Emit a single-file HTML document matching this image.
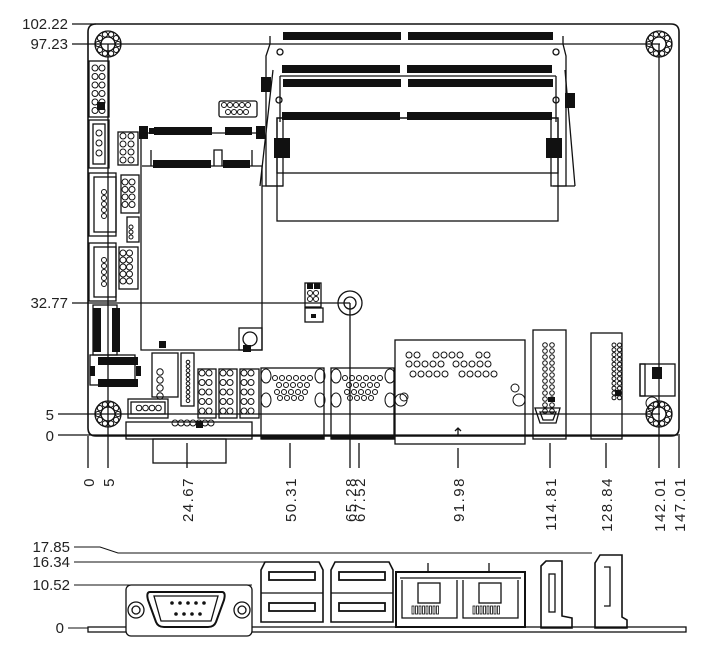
<!DOCTYPE html>
<html><head><meta charset="utf-8"><style>
html,body{margin:0;padding:0;background:#fff}
svg{display:block}
text{font-family:"Liberation Sans",sans-serif;font-size:15px;fill:#222}
</style></head><body>
<svg id="s" width="714" height="653" viewBox="0 0 714 653" xmlns="http://www.w3.org/2000/svg" fill="none" stroke="#111" stroke-width="1.3">
<path d="M96 24 H671 Q679 24 679 32 V428 Q679 436 671 436 H96 Q88 436 88 428 V32 Q88 24 96 24 Z" stroke-width="1.6"/>
<line x1="72" y1="24" x2="96" y2="24"/>
<line x1="72" y1="44" x2="660" y2="44"/>
<line x1="72" y1="303" x2="350" y2="303"/>
<line x1="58" y1="414" x2="660" y2="414"/>
<line x1="58" y1="435" x2="680" y2="435"/>
<g stroke="none">
<text x="68" y="29" text-anchor="end">102.22</text>
<text x="68" y="49" text-anchor="end">97.23</text>
<text x="68" y="308" text-anchor="end">32.77</text>
<text x="54" y="420" text-anchor="end">5</text>
<text x="54" y="441" text-anchor="end">0</text>
</g>
<line x1="88" y1="436" x2="88" y2="468"/>
<line x1="108" y1="44" x2="108" y2="468"/>
<line x1="187" y1="443" x2="187" y2="468"/>
<line x1="290" y1="443" x2="290" y2="468"/>
<line x1="350" y1="303" x2="350" y2="468"/>
<line x1="359" y1="443" x2="359" y2="468"/>
<line x1="458" y1="448" x2="458" y2="468"/>
<line x1="550" y1="443" x2="550" y2="468"/>
<line x1="606" y1="443" x2="606" y2="468"/>
<line x1="659" y1="44" x2="659" y2="468"/>
<line x1="679" y1="436" x2="679" y2="468"/>
<g stroke="none" id="vl"></g>
<g>
<rect x="277" y="118" width="281" height="103"/>
<rect x="277" y="118" width="281" height="55"/>
<path d="M270 36 V44 L266 56 V186 H283 V118 M563 36 V44 L566 56 V186 H551 V118"/>
<path d="M260 186 L273 70 M575 186 L565 70 M262 186 H283 M553 186 H575"/>
<path d="M280 76 H556 M280 76 V122 M556 76 V122"/>
<circle cx="280" cy="52" r="3"/><circle cx="556" cy="52" r="3"/>
<circle cx="279" cy="100" r="3"/><circle cx="556" cy="100" r="3"/>
</g>
<g fill="#111" stroke="none">
<rect x="283" y="32" width="118" height="8"/><rect x="408" y="32" width="145" height="8"/>
<rect x="282" y="65" width="118" height="8"/><rect x="407" y="65" width="145" height="8"/>
<rect x="283" y="79" width="118" height="8"/><rect x="408" y="79" width="145" height="8"/>
<rect x="282" y="112" width="118" height="8"/><rect x="407" y="112" width="145" height="8"/>
<rect x="274" y="138" width="16" height="20"/><rect x="546" y="138" width="16" height="20"/>
<rect x="261" y="77" width="10" height="15"/><rect x="565" y="93" width="10" height="15"/>
<rect x="139" y="126" width="9" height="13"/><rect x="154" y="127" width="58" height="8"/><rect x="225" y="127" width="27" height="8"/><rect x="256" y="126" width="9" height="13"/>
<rect x="153" y="160" width="58" height="8"/><rect x="223" y="160" width="27" height="8"/>
</g>
<path d="M142 133 H262 M142 166 H262 V350 H141 V133 M151 166 V150 M252 166 V150 M214 166 V150 H222 V166"/>
<rect x="239" y="328" width="23" height="22"/><circle cx="250" cy="339" r="7"/>
<rect x="219" y="101" width="38" height="16" rx="2"/>
<rect x="89" y="61" width="20" height="56"/>
<rect x="89" y="120" width="20" height="48"/><rect x="93" y="124" width="12" height="40"/>
<rect x="89" y="173" width="27" height="63"/><rect x="94" y="177" width="22" height="55"/>
<rect x="89" y="243" width="27" height="58"/><rect x="94" y="247" width="22" height="50"/>
<rect x="118" y="132" width="20" height="33"/><rect x="121" y="175" width="18" height="38"/>
<rect x="127" y="217" width="12" height="25"/><rect x="119" y="247" width="19" height="42"/>
<rect x="93" y="305" width="24" height="50"/>
<rect x="90" y="355" width="45" height="30"/>
<rect x="152" y="353" width="26" height="44"/><rect x="181" y="353" width="13" height="53"/>
<rect x="198" y="369" width="18" height="49"/><rect x="219" y="369" width="18" height="49"/><rect x="240" y="369" width="19" height="49"/>
<rect x="128" y="399" width="40" height="19"/><rect x="131" y="402" width="34" height="12"/>
<rect x="305" y="283" width="16" height="24"/><rect x="305" y="308" width="18" height="14"/>
<circle cx="350" cy="303" r="12"/><circle cx="350" cy="303" r="6"/>
<rect x="126" y="422" width="126" height="17"/><rect x="153" y="439" width="73" height="24"/>
<rect x="261" y="368" width="63" height="71"/><rect x="262" y="436" width="62" height="3" fill="#111"/>
<rect x="331" y="368" width="63" height="71"/><rect x="332" y="436" width="62" height="3" fill="#111"/>
<rect x="395" y="340" width="130" height="104"/>
<path d="M458 436 V428 M455 431 L458 428 L461 431"/>
<rect x="533" y="330" width="33" height="109"/>
<path d="M535 408 H560 L556 423 H540 Z M540 412 H556 L553 420 H543 Z"/>
<rect x="591" y="333" width="31" height="106"/>
<rect x="640" y="364" width="35" height="32"/><rect x="640" y="364" width="5" height="32"/>
<g fill="#111" stroke="none">
<rect x="652" y="367" width="10" height="12"/>
<rect x="93" y="308" width="8" height="44"/><rect x="112" y="308" width="8" height="44"/>
<rect x="98" y="357" width="40" height="8"/><rect x="98" y="379" width="40" height="8"/>
<rect x="90" y="366" width="5" height="10"/><rect x="136" y="366" width="5" height="10"/>
<rect x="149" y="128" width="9" height="6"/><rect x="307" y="283" width="6" height="6"/><rect x="314" y="283" width="6" height="6"/>
<rect x="311" y="314" width="5" height="4"/>
<rect x="159" y="341" width="7" height="7"/><rect x="243" y="345" width="8" height="7"/>
<rect x="196" y="421" width="7" height="7"/>
<rect x="548" y="397" width="7" height="5"/><rect x="615" y="390" width="6" height="6"/>
<rect x="97" y="102" width="8" height="8"/><rect x="307" y="65" width="6" height="6"/>
</g>
<g id="mh"></g>
<path d="M74 547 H100 L118 553 H592 M74 562 H268 M74 585 H252 M68 628 H88" stroke-width="1.1"/>
<g stroke="none">
<text x="70" y="552" text-anchor="end">17.85</text>
<text x="70" y="567" text-anchor="end">16.34</text>
<text x="70" y="590" text-anchor="end">10.52</text>
<text x="64" y="633" text-anchor="end">0</text>
</g>
<rect x="88" y="627" width="598" height="5"/>
<rect x="126" y="585" width="126" height="51" rx="5" fill="#fff"/>
<path d="M150 592 H222 Q226 592 224 600 L216 622 Q214 627 208 627 H164 Q158 627 156 622 L148 600 Q146 592 150 592 Z" stroke-width="2"/>
<path d="M154 596 H218 L211 621 H161 Z"/>
<circle cx="136" cy="610" r="8"/><circle cx="136" cy="610" r="4"/>
<circle cx="242" cy="610" r="8"/><circle cx="242" cy="610" r="4"/>
<g fill="#111" stroke="none">
<circle cx="172" cy="603" r="1.8"/><circle cx="180" cy="603" r="1.8"/><circle cx="188" cy="603" r="1.8"/><circle cx="196" cy="603" r="1.8"/><circle cx="204" cy="603" r="1.8"/>
<circle cx="176" cy="614" r="1.8"/><circle cx="184" cy="614" r="1.8"/><circle cx="192" cy="614" r="1.8"/><circle cx="200" cy="614" r="1.8"/>
</g>
<g id="usb"></g>
<rect x="396" y="572" width="129" height="55" stroke-width="2"/>
<path d="M402 580 V618 H457 V580 M463 580 V618 H518 V580 M400 578 H521"/>
<rect x="418" y="583" width="22" height="20"/><rect x="479" y="583" width="22" height="20"/>
<path d="M428 572 V563 M489 572 V563"/>
<g id="lanp"></g>
<path d="M541 566 L546 561 H562 V616 L572 618 V628 H541 Z" stroke-width="1.6"/>
<rect x="549" y="574" width="6" height="38"/>
<path d="M595 563 L600 555 H622 V617 L627 620 V628 H595 Z" stroke-width="1.6"/>
<path d="M604 567 H610 V606 H604"/>
</svg>
<script>
var s=document.getElementById('s'),NS='http://www.w3.org/2000/svg';
function el(t,a,p){var e=document.createElementNS(NS,t);for(var k in a)e.setAttribute(k,a[k]);(p||s).appendChild(e);return e;}
function c(x,y,r){el('circle',{cx:x,cy:y,r:r||2.6,'stroke-width':1});}
[[88,'0'],[108,'5'],[187,'24.67'],[290,'50.31'],[350,'65.28'],[359,'67.52'],[458,'91.98'],[550,'114.81'],[606,'128.84'],[659,'142.01'],[679,'147.01']].forEach(function(v){
var t=el('text',{x:v[0]+6,y:477,'text-anchor':'end','letter-spacing':'1.5',transform:'rotate(-90 '+(v[0]+6)+' 477)'},document.getElementById('vl'));t.textContent=v[1];});
[[108,44],[659,44],[108,414],[659,414]].forEach(function(p){
el('circle',{cx:p[0],cy:p[1],r:13});el('circle',{cx:p[0],cy:p[1],r:7});
for(var i=0;i<10;i++){var a=i*Math.PI/5;c(p[0]+10*Math.cos(a),p[1]+10*Math.sin(a),2.6);}});
function grid(x,y,cols,rows,dx,dy,r){for(var i=0;i<cols;i++)for(var j=0;j<rows;j++)c(x+i*dx,y+j*dy,r);}
grid(95,68,2,6,7,8.5,3);grid(123,136,2,4,8,8,3);grid(125,182,2,4,7,7.5,3);grid(131,227,1,3,0,5,2);grid(123,253,2,5,6.5,7,3);
grid(224,105,5,1,6,0,2.5);grid(228,112,4,1,6,0,2.5);
grid(99,133,1,3,0,10,3);grid(104,192,1,5,0,6,2.5);grid(104,260,1,5,0,6,2.5);
grid(310,293,2,2,6,6,2.5);grid(160,372,1,4,0,8,3.2);grid(188,362,1,10,0,4.3,1.8);
grid(202,373,2,5,7,9.5,3);grid(223,373,2,5,7,9.5,3);grid(244,373,2,5,7,9.5,3);
grid(139,408,4,1,6.5,0,2.8);grid(175,423,7,1,6,0,3);
grid(275,378,6,1,7,0,2.5);grid(279,385,5,1,7,0,2.5);grid(277,392,5,1,7,0,2.5);grid(280,398,4,1,7,0,2.5);
grid(345,378,6,1,7,0,2.5);grid(349,385,5,1,7,0,2.5);grid(347,392,5,1,7,0,2.5);grid(350,398,4,1,7,0,2.5);
[[266,376],[266,400],[320,376],[320,400],[336,376],[336,400],[390,376],[390,400]].forEach(function(p){el('ellipse',{cx:p[0],cy:p[1],rx:5,ry:7,'stroke-width':1});});
grid(409,355,2,1,8,0,3);grid(436,355,4,1,8,0,3);grid(479,355,2,1,8,0,3);
grid(409,364,5,1,8,0,3);grid(456,364,5,1,8,0,3);grid(413,374,5,1,8,0,3);grid(462,374,5,1,8,0,3);
c(401,400,6);c(519,400,6);c(404,397,4);c(515,388,4);
grid(545,345,2,12,7,6,2.3);grid(614,345,2,12,5.5,4.8,2);c(652,403,6);
[[261,562],[331,562]].forEach(function(p){var x=p[0],y=p[1];
el('path',{d:'M'+(x+4)+' '+y+' H'+(x+58)+' L'+(x+62)+' '+(y+8)+' V'+(y+60)+' H'+x+' V'+(y+8)+' Z','stroke-width':1.6});
el('line',{x1:x,y1:y+31,x2:x+62,y2:y+31});
el('rect',{x:x+8,y:y+10,width:46,height:8,'stroke-width':1.8});el('rect',{x:x+8,y:y+41,width:46,height:8,'stroke-width':1.8});});
var lp=document.getElementById('lanp');
[412,473].forEach(function(x0){for(var i=0;i<8;i++)el('rect',{x:x0+i*3.5,y:606,width:2,height:8,'stroke-width':0.8},lp);});
</script>
</body></html>
